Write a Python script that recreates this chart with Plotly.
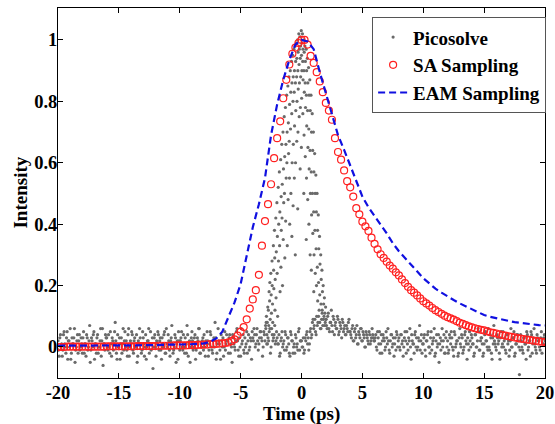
import plotly.graph_objects as go

# ---------------- data ----------------
x_ticks = [-20, -15, -10, -5, 0, 5, 10, 15, 20]
x_tick_labels = ["-20", "-15", "-10", "-5", "0", "5", "10", "15", "20"]
y_ticks = [0, 0.2, 0.4, 0.6, 0.8, 1]
y_tick_labels = ["0", "0.2", "0.4", "0.6", "0.8", "1"]
x_title = "Time (ps)"
y_title = "Intensity"

# Picosolve background samples (hundredths of intensity), time step 0.1 ps from -20 ps
pico_noise_a = [
    2,-3,4,1,-1,5,0,3,-4,2,6,-2,1,3,-5,0,4,2,-1,3,
    -2,5,1,-3,3,0,7,-1,2,4,-4,1,3,-2,0,6,2,-6,1,4,
    3,-1,0,5,-3,2,1,8,-2,4,0,-4,3,1,-1,5,2,-3,6,0,
    1,4,-2,3,0,-5,2,6,1,-1,3,-3,4,0,2,-2,5,1,-7,3,
    0,2,5,-1,3,-4,1,4,-2,6,0,2,-3,3,1,-1,4,-5,2,5,
    -1,3,0,4,-2,1,7,-3,2,0,5,-1,3,-4,1,2,6,-2,0,3,
    4,-3,1,2,-1,5,0,-2,3,8,-4,1,2,-1,4,0,-3,5,1,2,
    -2,4,1,-5,3,0,2,6,-1,3,-3,1,4,-2,0,5,2,-1,3,-4,
    3,6,0,4,2,1,5,3,-3,5,2,8,1,2,6,0,4,3,7,2,
    3,1,-3,2,5,1,-1,4,0,3,-2,5,2,-2,1,4,0,-1,6,2,
    2,0,-2,3,4,1,-1,5,3,8,6,9,4,7,10,8,6,11,9,7,
    9,6,11,5,8,7,10,4,8,6,9,5,7,3,8,6,4,7,5,9,
    5,3,7,2,6,4,1,5,3,6,2,4,0,5,3,1,4,2,6,3,
    2,4,-1,3,5,1,-2,4,2,0,3,6,-1,2,4,1,-3,3,5,0,
    3,-1,4,2,0,5,-2,1,3,6,-4,2,1,4,0,-1,3,7,2,-2,
    1,4,-3,2,5,0,3,-1,2,6,-2,4,1,-5,3,2,0,4,-2,5,
    2,-1,3,5,0,-3,4,1,2,-2,6,0,3,-1,4,2,-4,1,5,0,
    3,1,-2,4,0,6,-1,2,3,-3,1,5,2,-1,0,4,-2,3,7,1,
    -1,3,2,-4,5,1,0,3,-2,4,2,-1,6,0,3,-3,1,4,2,-9,
    4,0,-2,3,1,5,-1,2,-3,4,1,6,0,-2,3,2,-1,5,1,3,
    2,
]
# second interleaved set, time step 0.1 ps from -19.95 ps
pico_noise_b = [
    -1,3,0,-3,4,1,-2,5,2,0,-4,3,1,6,-1,2,-2,4,0,1,
    3,-2,1,4,-1,2,-5,3,0,5,1,-2,4,0,2,-3,6,1,-1,3,
    0,4,-2,1,3,-1,5,2,-4,0,3,1,-2,6,2,0,-1,4,-3,2,
    5,-1,2,0,4,-3,1,3,-2,5,1,0,-4,2,6,1,-1,3,0,4,
    -3,1,4,2,-1,3,0,5,-2,1,4,-1,2,7,-2,0,3,1,-4,2,
    2,5,-1,0,3,-2,4,1,-5,3,2,0,4,-1,3,6,-2,1,2,-1,
    0,2,5,-3,1,4,-1,2,0,3,-2,6,1,-4,2,3,0,-1,4,2,
    3,-2,0,4,1,-1,5,2,-3,0,6,2,-1,3,1,-2,4,0,2,5,
    2,4,1,6,-1,3,5,2,0,4,7,1,3,5,-2,6,2,4,1,5,
    1,4,-2,3,0,2,5,-1,3,1,-3,4,2,0,-2,3,1,5,-1,2,
    0,3,-1,2,5,3,1,6,4,9,7,5,10,8,12,6,9,7,10,8,
    7,10,6,8,12,5,9,7,6,10,4,8,6,9,5,7,4,6,8,5,
    4,6,2,5,3,7,1,4,6,2,5,3,0,4,2,5,1,3,4,2,
    3,0,5,1,-2,4,2,3,-1,5,1,2,-2,4,0,3,1,-1,4,2,
    0,4,1,-3,3,2,5,-1,2,0,4,1,-2,5,3,0,2,-1,4,1,
    3,-1,2,4,0,-2,5,1,3,-3,2,0,4,1,-1,6,2,-2,3,0,
    -2,4,1,3,-1,5,0,2,-3,3,1,4,-2,0,5,1,3,-1,2,4,
    1,-3,4,0,2,5,-1,3,1,-2,4,2,0,6,-1,3,-4,1,2,0,
    4,1,-2,3,0,5,2,-1,4,1,-3,2,0,3,5,-2,1,4,0,-1,
    2,-1,3,1,-4,4,0,2,5,-2,3,1,-1,4,2,0,3,-2,1,4,
]
# Picosolve samples on the pulse (time ps, intensity)
pico_peak = [
    (-2.93,0.06),(-2.88,0.10),(-2.81,0.08),(-2.77,0.13),(-2.84,0.04),
    (-2.72,0.12),(-2.66,0.18),(-2.69,0.07),(-2.62,0.15),(-2.57,0.09),(-2.6,0.21),
    (-2.52,0.24),(-2.47,0.11),(-2.49,0.17),(-2.42,0.28),(-2.38,0.14),(-2.41,0.2),(-2.36,0.08),
    (-2.31,0.33),(-2.27,0.19),(-2.29,0.25),(-2.22,0.38),(-2.18,0.12),(-2.2,0.29),(-2.16,0.22),
    (-2.11,0.42),(-2.07,0.31),(-2.09,0.16),(-2.02,0.47),(-1.98,0.36),(-2.0,0.24),(-1.96,0.1),
    (-1.91,0.52),(-1.87,0.4),(-1.89,0.28),(-1.82,0.57),(-1.78,0.44),(-1.8,0.33),(-1.76,0.18),
    (-1.71,0.61),(-1.67,0.49),(-1.69,0.26),(-1.66,0.38),(-1.62,0.66),(-1.58,0.53),(-1.6,0.42),(-1.56,0.2),
    (-1.52,0.7),(-1.48,0.58),(-1.5,0.35),(-1.46,0.47),(-1.42,0.75),(-1.38,0.62),(-1.4,0.5),(-1.37,0.29),
    (-1.32,0.78),(-1.28,0.66),(-1.3,0.41),(-1.26,0.55),(-1.22,0.82),(-1.18,0.7),(-1.2,0.6),(-1.17,0.33),
    (-1.12,0.85),(-1.08,0.73),(-1.1,0.48),(-1.06,0.63),(-1.03,0.88),(-0.98,0.79),(-1.01,0.67),(-0.97,0.4),(-0.99,0.55),
    (-0.92,0.9),(-0.88,0.83),(-0.9,0.71),(-0.87,0.5),(-0.82,0.93),(-0.78,0.86),(-0.8,0.76),(-0.77,0.6),(-0.79,0.36),
    (-0.72,0.95),(-0.68,0.88),(-0.7,0.8),(-0.67,0.66),(-0.69,0.46),(-0.62,0.97),(-0.58,0.9),(-0.6,0.83),(-0.57,0.72),(-0.59,0.55),
    (-0.52,0.98),(-0.48,0.93),(-0.5,0.86),(-0.47,0.77),(-0.49,0.6),(-0.51,0.3),(-0.42,0.99),(-0.38,0.94),(-0.4,0.88),(-0.37,0.8),(-0.39,0.67),
    (-0.32,1.0),(-0.28,0.96),(-0.3,0.9),(-0.27,0.84),(-0.29,0.7),(-0.31,0.45),(-0.22,1.02),(-0.18,0.97),(-0.2,0.92),(-0.17,0.86),(-0.19,0.75),
    (-0.12,1.01),(-0.08,0.98),(-0.1,0.94),(-0.07,0.88),(-0.09,0.78),(-0.11,0.58),(-0.02,1.03),(0.02,0.99),(0.0,0.95),(0.03,0.9),(0.01,0.81),(-0.01,0.65),
    (0.08,1.02),(0.12,0.97),(0.1,0.93),(0.13,0.87),(0.11,0.76),(0.18,1.0),(0.22,0.96),(0.2,0.9),(0.23,0.83),(0.21,0.69),(0.19,0.5),
    (0.28,0.98),(0.32,0.93),(0.3,0.86),(0.33,0.78),(0.31,0.62),(0.38,0.97),(0.42,0.9),(0.4,0.82),(0.43,0.72),(0.41,0.55),(0.39,0.35),
    (0.48,0.94),(0.52,0.86),(0.5,0.77),(0.53,0.65),(0.51,0.48),(0.58,0.91),(0.62,0.82),(0.6,0.71),(0.63,0.58),(0.61,0.4),
    (0.68,0.87),(0.72,0.77),(0.7,0.64),(0.73,0.5),(0.71,0.3),(0.78,0.82),(0.82,0.7),(0.8,0.57),(0.83,0.43),(0.81,0.25),
    (0.88,0.76),(0.92,0.64),(0.9,0.5),(0.93,0.37),(0.98,0.7),(1.02,0.57),(1.0,0.44),(1.03,0.3),(1.01,0.18),
    (1.08,0.63),(1.12,0.5),(1.1,0.38),(1.13,0.24),(1.18,0.56),(1.22,0.44),(1.2,0.32),(1.23,0.2),
    (1.28,0.5),(1.32,0.38),(1.3,0.26),(1.33,0.15),(1.38,0.43),(1.42,0.32),(1.4,0.21),
    (1.48,0.36),(1.52,0.27),(1.5,0.17),(1.58,0.3),(1.62,0.22),(1.6,0.14),
    (1.68,0.25),(1.72,0.18),(1.7,0.12),(1.78,0.2),(1.82,0.14),(1.88,0.16),(1.92,0.11),(1.98,0.13),(2.02,0.09),
]

# SA sampling, time step 0.25 ps from -20 ps
sa_y = [
    0.000,0.000,0.000,0.001, 0.001,0.001,0.001,0.001, 0.001,0.001,0.001,0.001,
    0.001,0.001,0.001,0.001, 0.002,0.002,0.002,0.002, 0.002,0.002,0.002,0.002,
    0.002,0.002,0.003,0.003, 0.003,0.003,0.003,0.003, 0.003,0.004,0.004,0.004,
    0.004,0.004,0.005,0.005, 0.005,0.005,0.005,0.006, 0.006,0.006,0.007,0.007,
    0.008,0.008,0.009,0.009, 0.010,0.011,0.012,0.013, 0.015,0.019,0.025,0.037,
    0.050,0.065,0.090,0.125, 0.155,0.185,0.235,0.330, 0.410,0.465,0.530,0.615,
    0.680,0.735,0.810,0.870, 0.920,0.955,0.975,0.990, 1.000,1.000,0.985,0.948,
    0.925,0.895,0.865,0.830, 0.795,0.770,0.740,0.680, 0.635,0.610,0.575,0.540,
    0.520,0.490,0.452,0.432, 0.408,0.393,0.378,0.356, 0.336,0.318,0.302,0.290,
    0.278,0.265,0.255,0.243, 0.233,0.220,0.208,0.196, 0.185,0.177,0.168,0.158,
    0.149,0.142,0.135,0.127, 0.120,0.114,0.108,0.102, 0.097,0.093,0.089,0.084,
    0.079,0.075,0.071,0.067, 0.064,0.061,0.058,0.056, 0.054,0.051,0.048,0.046,
    0.044,0.041,0.039,0.037, 0.035,0.033,0.031,0.029, 0.027,0.026,0.024,0.023,
    0.021,0.020,0.018,0.017, 0.016,
]

# EAM sampling, time step 0.5 ps from -20 ps
eam_y = [
    0.004,0.004,0.004,0.004,0.005,0.005,0.005,0.005,0.005,0.005,
    0.005,0.005,0.006,0.006,0.006,0.006,0.006,0.007,0.007,0.007,
    0.008,0.008,0.009,0.010,0.012,0.017,0.028,0.050,0.095,0.145,
    0.205,0.295,0.390,0.465,0.550,0.690,0.790,0.870,0.935,0.985,
    1.000,0.995,0.970,0.895,0.825,0.755,0.690,0.642,0.590,0.540,
    0.490,0.455,0.425,0.398,0.370,0.338,0.312,0.290,0.265,0.243,
    0.224,0.207,0.190,0.177,0.164,0.153,0.142,0.132,0.122,0.113,
    0.104,0.098,0.093,0.089,0.085,0.081,0.078,0.076,0.073,0.071,
    0.070,
]

# ---------------- assemble ----------------
pico_t = ([-20 + 0.1 * i for i in range(len(pico_noise_a))]
          + [-19.95 + 0.1 * i for i in range(len(pico_noise_b))]
          + [p[0] for p in pico_peak])
pico_y = ([v / 100 for v in pico_noise_a]
          + [v / 100 for v in pico_noise_b]
          + [p[1] for p in pico_peak])
sa_t = [-20 + 0.25 * i for i in range(len(sa_y))]
eam_t = [-20 + 0.5 * i for i in range(len(eam_y))]

FONT = "Liberation Serif, Times New Roman, serif"
TXT = dict(family=FONT, size=19, color="black", weight="bold")
TICK = dict(family=FONT, size=18.5, color="black", weight="bold")

fig = go.Figure()
fig.add_trace(go.Scatter(
    x=pico_t, y=pico_y, mode="markers", name="Picosolve",
    marker=dict(color="#6a6a6a", size=3.2, line=dict(width=0)),
))
fig.add_trace(go.Scatter(
    x=sa_t, y=sa_y, mode="markers", name="SA Sampling",
    marker=dict(symbol="circle-open", color="#ff2020", size=7, line=dict(width=1.2, color="#ff2020")),
))
fig.add_trace(go.Scatter(
    x=eam_t, y=eam_y, mode="lines", name="EAM Sampling",
    line=dict(color="#1010e0", width=2.2, dash="7px,4px"),
))

axis_common = dict(
    showline=True, linecolor="black", linewidth=1, mirror="ticks",
    ticks="inside", ticklen=5, tickcolor="black", tickwidth=1,
    showgrid=False, zeroline=False, automargin=False,
    tickfont=TICK,
)

fig.update_layout(
    width=555, height=424,
    margin=dict(l=58, r=10, t=8, b=46),
    plot_bgcolor="white", paper_bgcolor="white",
    font=TXT,
    xaxis=dict(range=[-20, 20], tickvals=x_ticks, ticktext=x_tick_labels,
               ticklabelstandoff=-2, **axis_common),
    yaxis=dict(range=[-0.101, 1.104], tickvals=y_ticks, ticktext=y_tick_labels,
               ticklabelstandoff=-4, **axis_common),
    legend=dict(x=0.645, y=0.975, xanchor="left", yanchor="top",
                bgcolor="white", bordercolor="#555555", borderwidth=1,
                font=TXT, itemwidth=30, tracegroupgap=0),
    showlegend=True,
    annotations=[
        dict(text=x_title, xref="paper", yref="paper", x=0.5, y=-0.096,
             xanchor="center", yanchor="middle", showarrow=False, font=TXT),
        dict(text=y_title, xref="paper", yref="paper", x=-0.079, y=0.5,
             xanchor="center", yanchor="middle", showarrow=False, textangle=-90, font=TXT),
    ],
)

fig.write_html("out.html", config={"displayModeBar": False},
               post_script="document.body.style.margin='0';document.body.style.overflow='hidden';")
